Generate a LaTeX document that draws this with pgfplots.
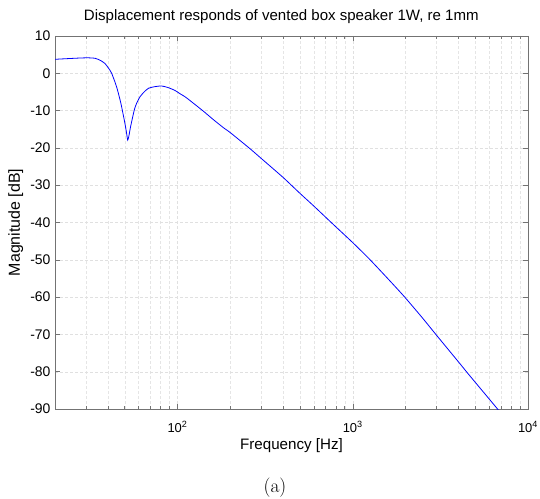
\documentclass[border=0pt]{standalone}
\usepackage{fontspec}
\newfontfamily\arial{Liberation Sans}
\usepackage{pgfplots}
\pgfplotsset{compat=1.18}
\begin{document}
\begin{tikzpicture}
\begin{semilogxaxis}[
  name=ax,
  scale only axis, width=473bp, height=373bp,
  xmin=20, xmax=10000, ymin=-90, ymax=10,
  ytick={-90,-80,...,10},
  xtick={100,1000,10000},
  xticklabels={10\textsuperscript{2},10\textsuperscript{3},10\textsuperscript{4}},
  minor xtick={20,30,...,90,200,300,...,900,2000,3000,...,9000},
  grid=both,
  major grid style={dash pattern=on 3bp off 2bp, black!12, line width=0.4pt},
  minor grid style={dash pattern=on 3bp off 2bp, black!10, line width=0.4pt},
  tick align=inside,
  major tick length=5bp, minor tick length=3bp,
  axis line style={black!55, line width=0.5pt},
  every tick/.style={black!55, line width=0.5pt},
  /pgf/number format/assume math mode=true,
  yticklabel style={font=\arial\fontsize{14}{16}\selectfont, text=black, xshift=-1bp},
  xticklabel style={font=\arial\fontsize{13}{15}\selectfont, text=black, anchor=base, yshift=-23bp},
  title={Displacement responds of vented box speaker 1W, re 1mm},
  title style={at={(axis description cs:0.4785,1.0268)}, anchor=base, font=\arial\fontsize{15.1}{17}\selectfont},
  xlabel={Frequency [Hz]},
  ylabel={Magnitude [dB]},
  xlabel style={at={(axis description cs:0.5,-0.1099)}, anchor=base, font=\arial\fontsize{15.2}{17}\selectfont},
  ylabel style={at={(axis description cs:-0.0740,0.5)}, anchor=base, font=\arial\fontsize{16}{18}\selectfont},
]
\addplot[blue, line width=0.8pt, smooth, tension=0.4] coordinates {
(20,3.75) (24,3.95) (28,4.1) (31,4.15) (34,4.0) (36.5,3.4) (38.6,2.6)
(40.5,1.3) (42.1,0.0) (44.9,-3.6) (47.5,-8.0) (50.1,-13.4) (51.2,-16.0)
(52.0,-17.9) (52.8,-16.8) (54.0,-14.3) (56.7,-9.8) (58.5,-8.0) (61.1,-6.3)
(64.5,-5.0) (68.4,-4.0) (74,-3.6) (81,-3.4) (88,-3.8) (96.8,-4.6)
(103.5,-5.5) (110.5,-6.3) (120,-7.6) (140,-10.1) (160,-12.4) (183,-14.6)
(200,-15.9) (259,-20.2) (300,-22.8) (400,-27.9) (500,-32.2) (600,-35.6)
(742,-39.7) (1000,-45.4) (1256,-50.0) (1633,-55.7) (1971,-59.9)
(2500,-65.6) (2979,-70.0) (4000,-77.3) (4675,-81.2) (6728,-90.1) (7500,-93)
};
\end{semilogxaxis}
\node[anchor=base, font=\rmfamily\fontsize{19.5}{22}\selectfont] at ([xshift=220bp,yshift=-83bp]ax.south west) {(a)};
\pgfresetboundingbox
\useasboundingbox ([xshift=-55bp,yshift=-90bp]ax.south west) rectangle ++(540bp,499bp);
\end{tikzpicture}
\end{document}
